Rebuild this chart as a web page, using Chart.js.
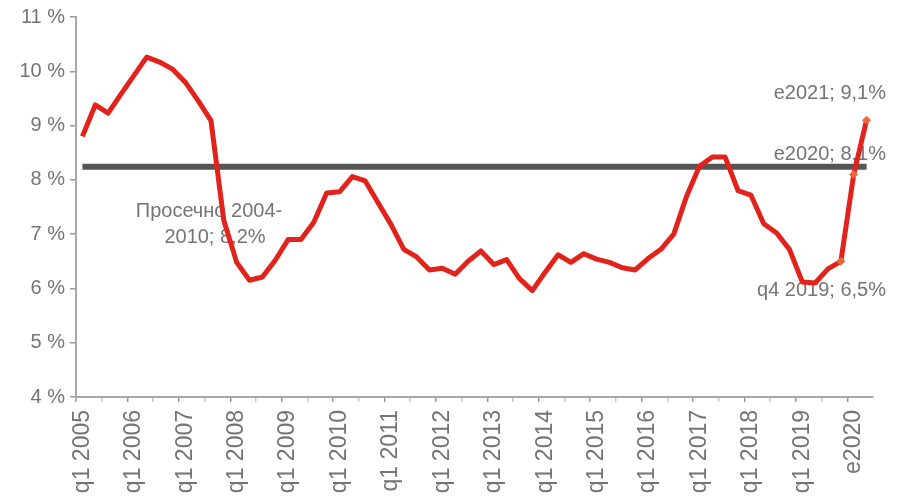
<!DOCTYPE html>
<html>
<head>
<meta charset="utf-8">
<script src="https://cdn.jsdelivr.net/npm/chart.js@4/dist/chart.umd.min.js"></script>
<style>
  html, body { margin: 0; background: #fff; }
  #okvir { width: 905px; height: 503px; }
</style>
</head>
<body>
<div id="okvir"><canvas id="grafik"></canvas></div>
<script>
// Години и квартали (категории на x-оската)
const godini = [2005, 2006, 2007, 2008, 2009, 2010, 2011, 2012, 2013, 2014, 2015, 2016, 2017, 2018, 2019];
const kvartali = ['q1', 'q2', 'q3', 'q4'];
const kategorii = [];
godini.forEach(g => kvartali.forEach(q => kategorii.push(q + ' ' + g)));
kategorii.push('e2020', 'e2021');

// Стапка по квартали, q1 2005 - q4 2019 (%)
const stapka = [
  8.80, 9.38, 9.23, 9.58, 9.92, 10.26, 10.17, 10.04, 9.80, 9.46, 9.09, 7.25,
  6.48, 6.15, 6.21, 6.52, 6.90, 6.90, 7.22, 7.76, 7.78, 8.06, 7.98, 7.58,
  7.18, 6.72, 6.58, 6.34, 6.37, 6.26, 6.50, 6.69, 6.44, 6.53, 6.18, 5.96,
  6.30, 6.62, 6.48, 6.64, 6.54, 6.48, 6.38, 6.34, 6.55, 6.72, 7.00, 7.70,
  8.25, 8.42, 8.42, 7.80, 7.72, 7.19, 7.02, 6.72, 6.12, 6.10, 6.36, 6.50
];

// Проценка: q4 2019, e2020, e2021
const prognoza = [6.5, 8.1, 9.1];

// Просек 2004-2010
const prosek = 8.24;

// Опсег на y-оската
const yMin = 4;
const yMax = 11;

const crvena = '#e1231c';
const siva = '#555555';
const tekstBoja = '#747474';
const font = '"Liberation Sans", Arial, sans-serif';

// Проценката се црта само на последните три точки
const podatociPrognoza = kategorii.map((_, i) => {
  const j = i - (stapka.length - 1);
  return j >= 0 ? prognoza[j] : null;
});

// Натписи врз графикот
const natpisi = {
  id: 'natpisi',
  beforeDatasetsDraw(chart) {
    const { ctx, scales: { x, y }, chartArea } = chart;
    ctx.save();
    ctx.font = '20px ' + font;
    ctx.fillStyle = tekstBoja;
    ctx.textBaseline = 'middle';

    ctx.textAlign = 'center';
    const cx = x.getPixelForValue(10);
    const py = y.getPixelForValue(prosek);
    ctx.fillText('Просечно 2004-', cx - 2, py + 45);
    ctx.fillText('2010; 8,2%', cx + 4, py + 71);

    ctx.textAlign = 'right';
    const rx = chartArea.right + 13;
    ctx.fillText('e2021; 9,1%', rx, y.getPixelForValue(prognoza[2]) - 27);
    ctx.fillText('e2020; 8,1%', rx, y.getPixelForValue(prognoza[1]) - 20);
    ctx.fillText('q4 2019; 6,5%', rx, y.getPixelForValue(prognoza[0]) + 29);
    ctx.restore();
  }
};

new Chart(document.getElementById('grafik'), {
  type: 'line',
  data: {
    labels: kategorii,
    datasets: [
      {
        label: 'Проценка',
        data: podatociPrognoza,
        borderColor: crvena,
        borderWidth: 5,
        pointStyle: 'rectRot',
        pointRadius: 4,
        pointBackgroundColor: '#e8683e',
        pointBorderColor: '#e8683e',
        pointBorderWidth: 1,
        tension: 0,
        order: 0
      },
      {
        label: 'Стапка',
        data: stapka,
        borderColor: crvena,
        borderWidth: 5,
        borderJoinStyle: 'round',
        pointRadius: 0,
        tension: 0,
        order: 1
      },
      {
        label: 'Просек',
        data: kategorii.map(() => prosek),
        borderColor: siva,
        borderWidth: 6,
        pointRadius: 0,
        order: 2
      }
    ]
  },
  options: {
    responsive: true,
    maintainAspectRatio: false,
    animation: false,
    layout: { padding: { left: 0, top: 17, right: 32, bottom: 0 } },
    plugins: {
      legend: { display: false },
      tooltip: { enabled: false }
    },
    scales: {
      x: {
        offset: true,
        afterFit: s => { s.height = 106; },
        border: { display: true, color: '#a8a8a8', width: 2 },
        grid: {
          offset: true,
          drawOnChartArea: false,
          drawTicks: true,
          tickLength: 5,
          lineWidth: 1.5,
          color: c => c.index % 4 === 0 ? '#999999' : (c.index % 2 === 0 ? '#c8c8c8' : 'rgba(0,0,0,0)')
        },
        ticks: {
          autoSkip: false,
          minRotation: 90,
          maxRotation: 90,
          padding: 8,
          color: tekstBoja,
          font: { family: font, size: 23 },
          callback: function (v, i) {
            if (i === 60) return 'e2020';
            if (i % 4 === 0 && i < 60) return kategorii[i];
            return '';
          }
        }
      },
      y: {
        min: yMin,
        max: yMax,
        afterFit: s => { s.width = 76; },
        border: { display: true, color: '#a8a8a8', width: 2 },
        grid: {
          drawOnChartArea: false,
          drawTicks: true,
          tickLength: 6,
          lineWidth: 1.5,
          color: '#999999'
        },
        ticks: {
          stepSize: 1,
          padding: 5,
          color: tekstBoja,
          font: { family: font, size: 20 },
          callback: v => v + ' %'
        }
      }
    }
  },
  plugins: [natpisi]
});
</script>
</body>
</html>
